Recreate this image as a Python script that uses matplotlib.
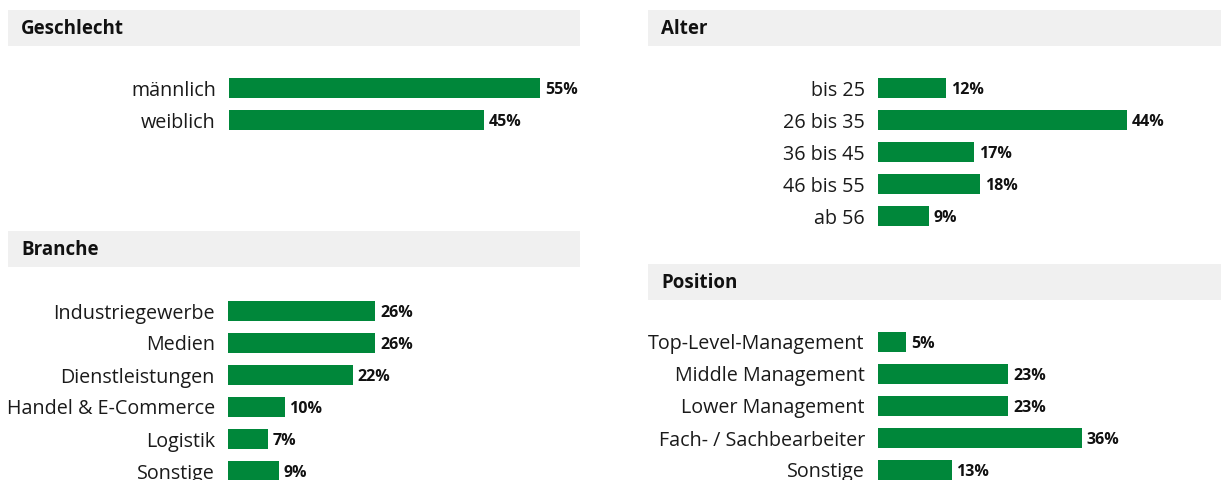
import matplotlib
matplotlib.use("Agg")
import matplotlib.pyplot as plt
from matplotlib.patches import Rectangle

# Data
geschlecht_labels = ["männlich", "weiblich"]
geschlecht_values = [55, 45]

alter_labels = ["bis 25", "26 bis 35", "36 bis 45", "46 bis 55", "ab 56"]
alter_values = [12, 44, 17, 18, 9]

branche_labels = ["Industriegewerbe", "Medien", "Dienstleistungen",
                  "Handel & E-Commerce", "Logistik", "Sonstige"]
branche_values = [26, 26, 22, 10, 7, 9]

position_labels = ["Top-Level-Management", "Middle Management", "Lower Management",
                   "Fach- / Sachbearbeiter", "Sonstige"]
position_values = [5, 23, 23, 36, 13]

GREEN = "#00873a"
HEADER_BG = "#f0f0f0"

W, H = 1221, 480
DPI = 100
PX_PER_PCT = 5.66
ROW = 32

plt.rcParams["font.family"] = ["Open Sans", "DejaVu Sans"]

fig = plt.figure(figsize=(W / DPI, H / DPI), dpi=DPI)


def fx(px):
    return px / W


def fy(py):
    return 1 - py / H


def panel(title, labels, values, hx0, hx1, hy0, hy1, bar_left, first_center):
    # header band
    fig.patches.append(Rectangle((fx(hx0), fy(hy1)), fx(hx1 - hx0), (hy1 - hy0) / H,
                                 transform=fig.transFigure, facecolor=HEADER_BG,
                                 edgecolor="none", zorder=0))
    fig.text(fx(hx0 + 13), fy((hy0 + hy1) / 2 + 1), title, fontsize=13.5,
             fontweight="bold", va="center", ha="left", color="#111111")

    n = len(labels)
    top = first_center - ROW / 2
    width_px = hx1 - bar_left
    ax = fig.add_axes([fx(bar_left), fy(top + n * ROW), fx(width_px), n * ROW / H])
    pos = list(range(n))
    ax.barh(pos, values, height=0.6, color=GREEN)
    ax.set_xlim(0, width_px / PX_PER_PCT)
    ax.set_ylim(n - 0.5, -0.5)
    ax.set_yticks(pos)
    ax.set_yticklabels(labels, fontsize=14.2, color="#1a1a1a")
    ax.tick_params(axis="y", length=0, pad=9.5)
    ax.set_xticks([])
    for s in ax.spines.values():
        s.set_visible(False)
    ax.patch.set_alpha(0)
    for p, v in zip(pos, values):
        ax.annotate(f"{v}%", (v, p), xytext=(3.5, -1.5), textcoords="offset points",
                    va="center", ha="left", fontsize=11.5, fontweight="bold",
                    color="#111111")


panel("Geschlecht", geschlecht_labels, geschlecht_values, 8, 580, 10, 46, 229, 88)
panel("Alter", alter_labels, alter_values, 648, 1221, 10, 46, 878, 88)
panel("Branche", branche_labels, branche_values, 8, 580, 231, 267, 228, 311)
panel("Position", position_labels, position_values, 648, 1221, 264, 300, 878, 342)

fig.savefig("out.png", dpi=DPI)
